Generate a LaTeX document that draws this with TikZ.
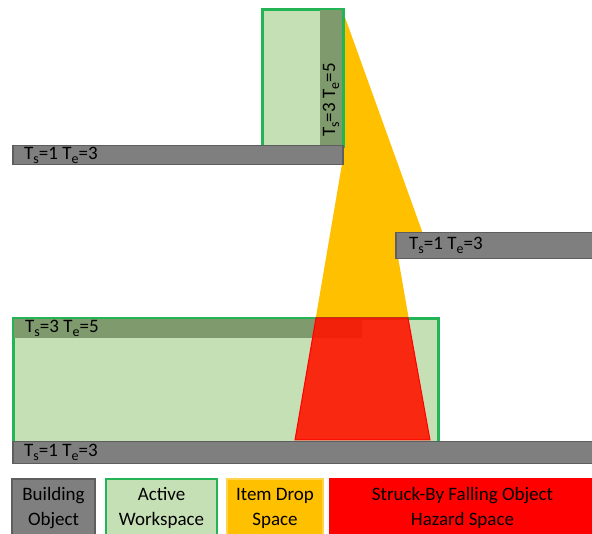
\documentclass[tikz,border=0pt]{standalone}
\usepackage{fontspec}
\setmainfont{Carlito}
\usepackage{xcolor}
\usepackage{tikz}
\usetikzlibrary{positioning}
\definecolor{BarGray}{HTML}{7F7F7F}
\definecolor{BarEdge}{HTML}{5E5E5E}
\definecolor{WorkFill}{HTML}{C5E0B4}
\definecolor{WorkEdge}{HTML}{22B455}
\definecolor{StripOlive}{HTML}{7F9A6C}
\definecolor{DropYellow}{HTML}{FFC000}
\definecolor{HazardRed}{HTML}{FF1500}
\definecolor{LegendRed}{HTML}{FF0000}
\newcommand{\lowsub}[1]{\raisebox{-4pt}{\fontsize{14}{14}\selectfont #1}}
\newcommand{\tse}[2]{T\lowsub{s}=#1 T\lowsub{e}=#2}

\begin{document}
\begin{tikzpicture}[
  x=1pt, y=-1pt,
  bar/.style={draw=BarEdge, line width=1.5pt, fill=BarGray, anchor=north west, inner sep=0pt},
  work/.style={draw=WorkEdge, line width=2pt, fill=WorkFill, anchor=north west, inner sep=0pt},
  strip/.style={fill=StripOlive, anchor=north west, inner sep=0pt},
  tag/.style={inner sep=0pt, font=\fontsize{19}{23}\selectfont},
  legend/.style={anchor=north west, inner sep=0pt, minimum height=58pt, align=center,
    line width=2pt, font=\fontsize{19}{25}\selectfont}
]
\useasboundingbox (0,0) rectangle (592,534);

% item drop space
\fill[DropYellow] (342,9) -- (427,245) -- (398,257) -- (430,440) -- (295,440) -- (342,164) -- cycle;

% upper workspace
\node[work, minimum width=80pt, minimum height=136pt] (workTop) at (262,9) {};
\node[strip, minimum width=22pt, minimum height=136pt] (stripTop) at (320,9) {};
\draw[WorkEdge, line width=2pt] (workTop.north west) rectangle (workTop.south east);
\node[tag, rotate=90, anchor=west] (tagStrip) at (331,137) {\tse{3}{5}};

% lower workspace
\node[work, minimum width=424pt, minimum height=123pt] (workLow) at (13,318) {};
\node[strip, minimum width=349pt, minimum height=20pt] (stripLow) at (13,318) {};
\draw[WorkEdge, line width=2pt] (workLow.north west) rectangle (workLow.south east);
\node[tag, right=12pt of stripLow.west] (tagLow) {\tse{3}{5}};

% hazard space
\filldraw[draw=LegendRed, fill=HazardRed, fill opacity=0.9, line width=1pt]
  (316,318) -- (408,318) -- (430,440) -- (295,440) -- cycle;

% building objects
\node[bar, minimum width=330pt, minimum height=19pt] (barTop) at (12,145) {};
\node[bar, minimum width=200pt, minimum height=26pt] (barRight) at (395,232) {};
\node[bar, minimum width=585pt, minimum height=22pt] (barGround) at (12,441) {};
\node[tag, right=12pt of barTop.west] {\tse{1}{3}};
\node[tag, right=14pt of barRight.west] {\tse{1}{3}};
\node[tag, right=12pt of barGround.west] {\tse{1}{3}};

% legend
\node[legend, draw=BarEdge, fill=BarGray, minimum width=83pt] (legBuild) at (11,478) {Building\\Object};
\node[legend, draw=WorkEdge, fill=WorkFill, minimum width=111pt] (legWork) at (105,478) {Active\\Workspace};
\node[legend, draw=DropYellow!70, fill=DropYellow, minimum width=96pt] (legDrop) at (226,478) {Item Drop\\Space};
\node[legend, draw=LegendRed, fill=LegendRed, minimum width=265pt] (legHazard) at (329,478) {Struck-By Falling Object\\Hazard Space};
\end{tikzpicture}
\end{document}
